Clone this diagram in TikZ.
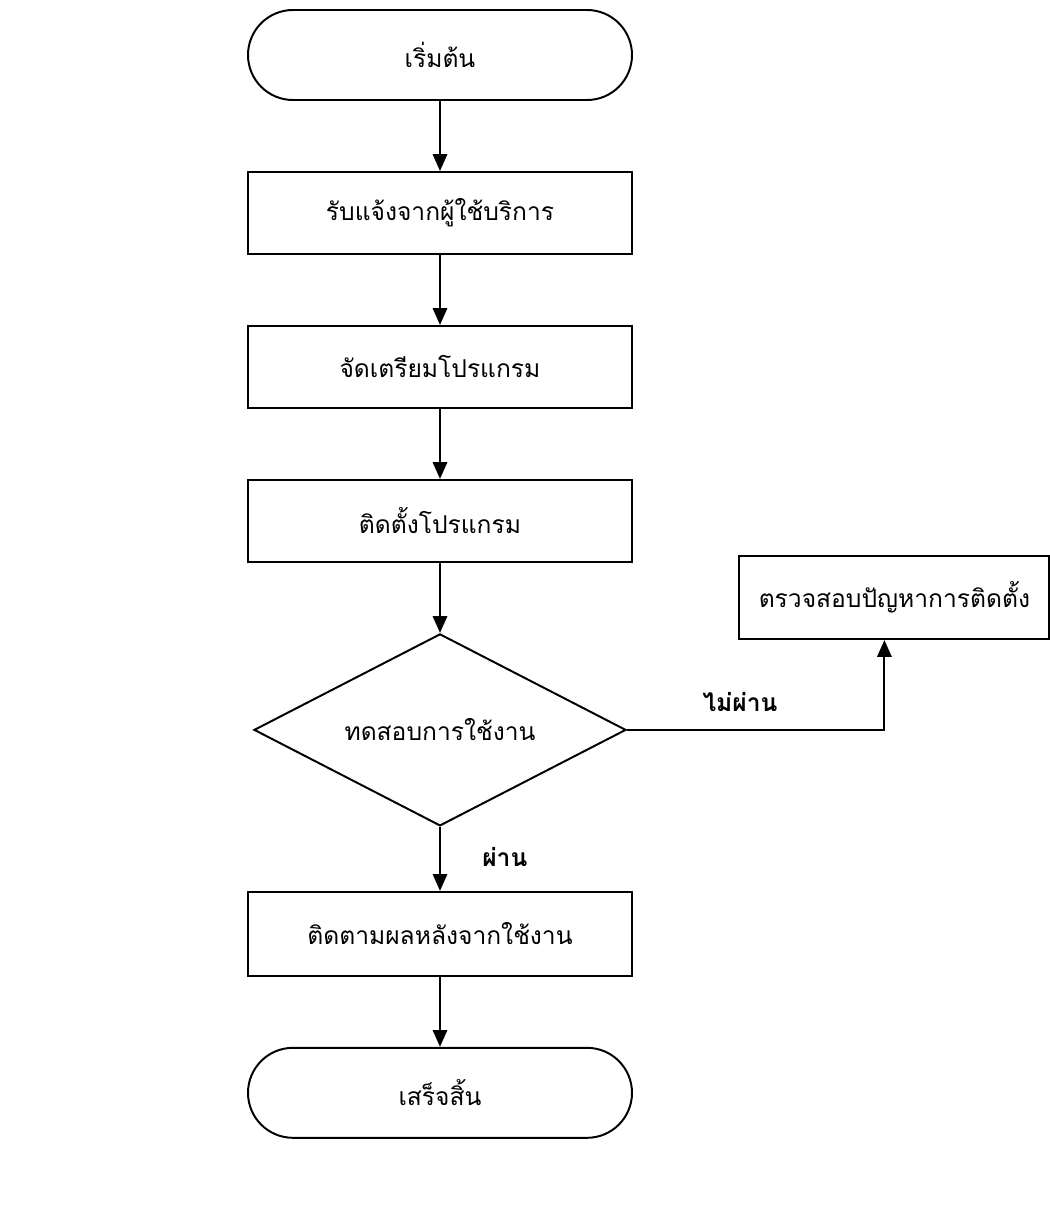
\documentclass[tikz,border=0pt]{standalone}
\usepackage{fontspec}
\setmainfont[Script=Thai]{Loma}
\usepackage{tikz}
\usetikzlibrary{arrows.meta}
\usetikzlibrary{positioning}
\usetikzlibrary{shapes.geometric}

\tikzset{
  terminal/.style={draw,line width=1.4pt,rounded corners=1.125cm,minimum width=9.6cm,minimum height=2.25cm},
  stepbox/.style={draw,line width=1.4pt,minimum width=9.6cm,minimum height=2.05cm},
  decision/.style={draw,line width=1.4pt,diamond,aspect=2,inner sep=0pt,minimum width=9.3cm,minimum height=4.8cm},
  flow/.style={line width=1.4pt,-{Triangle[length=0.42cm,width=0.36cm]}},
  lbl/.style={font=\fontsize{17.5}{21}\selectfont\bfseries}
}

\begin{document}
\begin{tikzpicture}[node distance=1.75cm,font=\fontsize{17.5}{21}\selectfont]
	 \useasboundingbox (0,0) rectangle (26.25,-30.25);
	 \node[terminal] (start) at (11,-1.375) {เริ่มต้น};
	 \node[stepbox] (receive) [below=of start]{รับแจ้งจากผู้ใช้บริการ};
	 \node[stepbox] (prepare) [below=of receive]{จัดเตรียมโปรแกรม};
	 \node[stepbox] (install) [below=of prepare]{ติดตั้งโปรแกรม};
	 \node[decision] (test) [below=of install]{ทดสอบการใช้งาน};
	 \node[stepbox,minimum height=2.1cm] (follow) [below=1.6cm of test]{ติดตามผลหลังจากใช้งาน};
	 \node[terminal] (finish) [below=of follow]{เสร็จสิ้น};
	 \node[draw,line width=1.4pt,minimum width=7.75cm,minimum height=2.075cm] (check) at (22.36,-14.94){ตรวจสอบปัญหาการติดตั้ง};
	 \coordinate (up) at ([xshift=-0.25cm]check.south);
	 \draw[flow] (start) -- (receive);
	 \draw[flow] (receive) -- (prepare);
	 \draw[flow] (prepare) -- (install);
	 \draw[flow] (install) -- (test);
	 \draw[flow] (test) -- (follow);
	 \draw[flow] (follow) -- (finish);
	 \draw[flow] (test.east) -| (up);
	 \node[lbl] (fail) at (18.5,-17.55){ไม่ผ่าน};
	 \node[lbl] (pass) at (12.62,-21.42){ผ่าน};
\end{tikzpicture}
\end{document}
